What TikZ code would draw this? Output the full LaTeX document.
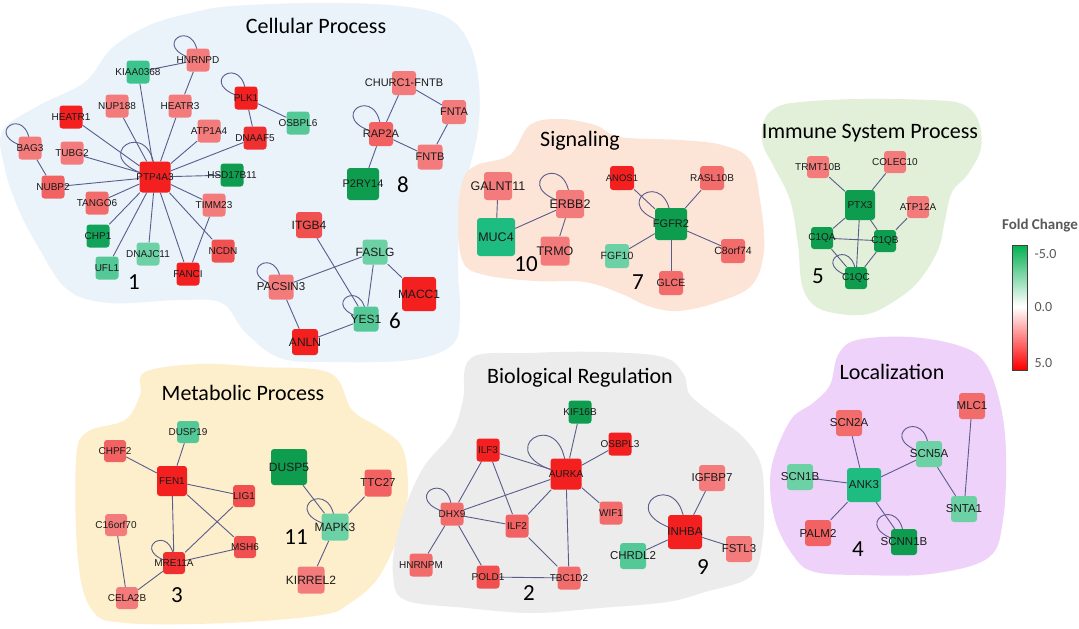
\documentclass[tikz,border=0pt]{standalone}
\usepackage{fontspec}
\setmainfont{Liberation Sans}
\newfontfamily\titfont{Carlito}
\pgfdeclarelayer{blobs}
\pgfdeclarelayer{edges}
\pgfsetlayers{blobs,edges,main}
\definecolor{R1}{HTML}{F41F1F}
\definecolor{R1b}{HTML}{F03030}
\definecolor{R2}{HTML}{F05050}
\definecolor{R2b}{HTML}{F26262}
\definecolor{R3}{HTML}{F47B7B}
\definecolor{R3b}{HTML}{F26C6C}
\definecolor{G1}{HTML}{0E9C4E}
\definecolor{G1b}{HTML}{12A35A}
\definecolor{G2}{HTML}{1FBC82}
\definecolor{G2b}{HTML}{3CC48E}
\definecolor{G3}{HTML}{6CD2A5}
\definecolor{G3b}{HTML}{55C898}
\definecolor{edgec}{HTML}{5A5C8C}
\definecolor{labc}{HTML}{1A1A1A}
\definecolor{bBlue}{HTML}{EAF2FA}
\definecolor{bPeach}{HTML}{FCE4D6}
\definecolor{bGreen}{HTML}{E2F0D9}
\definecolor{bLav}{HTML}{EFD2FA}
\definecolor{bYel}{HTML}{FDEFCB}
\definecolor{bGray}{HTML}{ECECEC}
\definecolor{cbg}{HTML}{00B050}
\definecolor{cbr}{HTML}{FF0000}
\definecolor{legc}{HTML}{595959}
\newcommand\lbl[1]{\makebox[0pt]{#1}}
\newcommand\gn[5]{\node[gene, minimum size=#3pt, fill=#4, #5] (#1) at (#2) {\lbl{#1}};}
\newcommand\sloop[2]{\draw[edge] (#1.center) .. controls +(-1.8*#2,-0.4*#2) and +(0,-1.6*#2) .. (#1.center);}
\begin{document}
\begin{tikzpicture}[x=1pt,y=-1pt,
  gene/.style={rectangle, rounded corners=3pt, minimum size=23pt, inner sep=0pt, text=labc, font=\fontsize{10}{10}\selectfont},
  fs/.style={font=\fontsize{#1}{#1}\selectfont},
  edge/.style={draw=edgec, line width=0.9pt},
  title/.style={font=\titfont\fontsize{22}{22}\selectfont, text=black},
  num/.style={font=\titfont\fontsize{23}{23}\selectfont, text=black},
  blob/.style={draw=none}]
\useasboundingbox (0,0) rectangle (1079,629);

\begin{pgfonlayer}{blobs}
\fill[white] (0,0) rectangle (1079,629);
\fill[bBlue] plot[smooth cycle, tension=0.6] coordinates {(233,6) (320,3) (400,6) (448,18) (470,45) (479,85) (478,130) (468,175) (460,220) (458,270) (460,315) (452,345) (410,360) (330,362) (280,358) (245,332) (222,303) (180,300) (110,303) (68,290) (40,250) (18,208) (4,165) (3,130) (40,105) (85,82) (112,48) (150,25) (195,12)};
\fill[bPeach] plot[smooth cycle, tension=0.6] coordinates {(463,180) (477,165) (510,155) (530,125) (560,119) (595,125) (620,137) (680,140) (722,145) (750,160) (760,200) (764,250) (752,285) (718,302) (678,311) (648,306) (622,294) (585,282) (535,281) (485,275) (463,262) (458,220)};
\fill[bGreen] plot[smooth cycle, tension=0.6] coordinates {(763,123) (775,108) (800,102) (860,99) (930,100) (962,104) (978,120) (981,148) (968,174) (952,192) (945,220) (938,250) (918,282) (893,302) (868,314) (840,314) (815,306) (802,285) (798,245) (790,200) (773,165) (763,145)};
\fill[bLav] plot[smooth cycle, tension=0.6] coordinates {(857,340) (910,337) (960,346) (985,363) (1000,403) (1006,453) (1003,520) (988,558) (930,574) (860,575) (815,572) (795,558) (775,520) (771,470) (790,421) (813,403) (830,385) (838,355)};
\fill[bYel] plot[smooth cycle, tension=0.6] coordinates {(145,372) (200,364) (260,367) (330,373) (352,410) (380,428) (402,447) (408,485) (404,520) (392,552) (375,582) (350,603) (322,615) (227,623) (125,623) (92,610) (78,560) (76,460) (87,432) (125,420) (140,395)};
\fill[bGray] plot[smooth cycle, tension=0.6] coordinates {(471,358) (530,353) (600,352) (663,357) (684,375) (690,395) (717,417) (743,437) (760,462) (764,495) (762,545) (750,577) (705,592) (667,602) (600,608) (533,613) (467,608) (405,600) (393,575) (396,540) (408,500) (425,465) (452,433) (463,400)};
\end{pgfonlayer}

% titles
\node[title] (tCell) at (316,26) {Cellular Process};
\node[title] (tSig) at (580,141) {Signaling};
\node[title] (tImm) at (870,133) {Immune System Process};
\node[title] (tMet) at (243,393) {Metabolic Process};
\node[title] (tBio) at (580,378) {Biological Regulation};
\node[title] (tLoc) at (892,372) {Localization};

% cluster numbers
\node[num] (n1) at (134,282) {1};
\node[num] (n8) at (403,185) {8};
\node[num] (n6) at (395,321) {6};
\node[num] (n10) at (526,264) {10};
\node[num] (n7) at (638,282) {7};
\node[num] (n5) at (818,276) {5};
\node[num] (n3) at (177,595) {3};
\node[num] (n11) at (296,537) {11};
\node[num] (n2) at (529,593) {2};
\node[num] (n9) at (703,567) {9};
\node[num] (n4) at (858,549) {4};

% Cellular cluster 1
\gn{HNRNPD}{198,60}{23}{R3}{}
\gn{KIAA0368}{138,72}{23}{G2b}{}
\gn{NUP188}{117,106}{23}{R3}{}
\gn{HEATR3}{180,106}{23}{R3}{}
\gn{HEATR1}{71,117}{23}{R1}{}
\gn{ATP1A4}{209,131}{23}{R3}{}
\gn{BAG3}{30,148}{23}{R3}{}
\gn{TUBG2}{72,153}{23}{R3}{}
\gn{PTP4A3}{155,177}{31}{R1}{}
\gn{NUBP2}{53,187}{23}{R2b}{}
\gn{TANGO6}{97,203}{23}{R3b}{}
\gn{TIMM23}{214,205}{23}{R3}{}
\gn{HSD17B11}{232,175}{23}{G1}{}
\gn{CHP1}{98,236}{23}{G1b}{}
\gn{DNAJC11}{148,254}{23}{G3}{}
\gn{NCDN}{223,251}{23}{R2}{}
\gn{UFL1}{107,268}{23}{G3b}{}
\gn{FANCI}{188,274}{23}{R1}{}
\gn{PLK1}{246,98}{23}{R1}{}
\gn{DNAAF5}{255,138}{23}{R1b}{}
\gn{OSBPL6}{298,123}{23}{G3b}{}
% cluster 8
\gn{CHURC1-FNTB}{404,83}{24}{R3}{fs=11}
\gn{FNTA}{454,112}{24}{R3}{fs=11}
\gn{RAP2A}{381,134}{24}{R2b}{fs=11}
\gn{FNTB}{430,157}{25}{R3}{fs=11}
\gn{P2RY14}{363,184}{32}{G1}{fs=11}
% cluster 6
\gn{ITGB4}{309,225}{26}{R2}{fs=12}
\gn{FASLG}{375,252}{25}{G3}{fs=12}
\gn{PACSIN3}{281,287}{25}{R3}{fs=11.5}
\gn{MACC1}{419,294}{34}{R1}{fs=12}
\gn{YES1}{366,319}{25}{G3b}{fs=12}
\gn{ANLN}{305,342}{26}{R1}{fs=12}
% Signaling
\gn{GALNT11}{498,186}{28}{R3}{fs=12.5}
\gn{ERBB2}{570,204}{28}{R3}{fs=12.5}
\gn{MUC4}{496,237}{38}{G2}{fs=12.5}
\gn{TRMO}{555,251}{29}{R3}{fs=12.5}
\gn{ANOS1}{622,178}{24}{R1}{fs=9.5}
\gn{RASL10B}{712,178}{24}{R3b}{fs=10}
\gn{FGFR2}{671,224}{32}{G1}{fs=11}
\gn{FGF10}{617,256}{24}{G3}{fs=10.5}
\gn{C8orf74}{733,251}{24}{R3b}{fs=10.5}
\gn{GLCE}{671,283}{24}{R3b}{fs=10.5}
% Immune
\gn{TRMT10B}{818,167}{22}{R3}{}
\gn{COLEC10}{895,162}{22}{R3}{}
\gn{PTX3}{860,205}{30}{G1}{}
\gn{ATP12A}{918,207}{22}{R3}{}
\gn{C1QA}{822,238}{22}{G1}{}
\gn{C1QB}{885,241}{22}{G1}{}
\gn{C1QC}{856,278}{22}{G1}{}
% Metabolic
\gn{DUSP19}{188,432}{22}{G3b}{}
\gn{CHPF2}{115,451}{22}{R2b}{}
\gn{FEN1}{172,481}{30}{R1}{}
\gn{LIG1}{244,496}{22}{R2}{}
\gn{C16orf70}{116,525}{22}{R3}{}
\gn{MSH6}{245,547}{22}{R2}{}
\gn{MRE11A}{174,563}{22}{R1b}{}
\gn{CELA2B}{127,598}{22}{R3}{}
\gn{DUSP5}{289,467}{36}{G1}{fs=12}
\gn{TTC27}{378,483}{27}{R2b}{fs=11.5}
\gn{MAPK3}{335,527}{27}{G3}{fs=12}
\gn{KIRREL2}{311,580}{27}{R3}{fs=12}
% Biological regulation
\gn{KIF16B}{580,412}{23}{G1}{}
\gn{OSBPL3}{620,444}{23}{R1}{}
\gn{ILF3}{488,450}{23}{R1}{}
\gn{AURKA}{566,474}{31}{R1}{}
\gn{DHX9}{452,514}{23}{R3b}{}
\gn{WIF1}{611,513}{23}{R3b}{}
\gn{ILF2}{517,526}{23}{R2b}{}
\gn{HNRNPM}{421,565}{23}{R3b}{}
\gn{POLD1}{488,577}{23}{R2}{}
\gn{TBC1D2}{569,578}{23}{R3b}{}
\gn{IGFBP7}{712,478}{26}{R3}{fs=11.5}
\gn{INHBA}{685,532}{34}{R1}{fs=11.5}
\gn{FSTL3}{739,549}{26}{R3}{fs=11.5}
\gn{CHRDL2}{633,556}{26}{G3b}{fs=11.5}
% Localization
\gn{MLC1}{972,406}{26}{R3b}{fs=11.5}
\gn{SCN2A}{849,423}{26}{R3b}{fs=11.5}
\gn{SCN5A}{929,454}{26}{G3}{fs=11.5}
\gn{SCN1B}{800,477}{26}{G3}{fs=11.5}
\gn{ANK3}{864,485}{34}{G2}{fs=11.5}
\gn{SNTA1}{964,509}{26}{G3}{fs=11.5}
\gn{PALM2}{818,533}{26}{R2b}{fs=11.5}
\gn{SCNN1B}{904,542}{26}{G1}{fs=11.5}

\begin{pgfonlayer}{edges}
% cluster 1
\foreach \t in {KIAA0368,HEATR1,NUP188,HEATR3,ATP1A4,DNAAF5,HSD17B11,TIMM23,NCDN,FANCI,DNAJC11,UFL1,CHP1,TANGO6,NUBP2,TUBG2}
  {\draw[edge] (PTP4A3) -- (\t);}
\draw[edge] (KIAA0368) -- (HNRNPD);
\draw[edge] (HNRNPD) -- (HEATR3);
\draw[edge] (BAG3) -- (NUBP2);
\draw[edge] (TIMM23) -- (FANCI);
\draw[edge] (PLK1) -- (DNAAF5);
\draw[edge] (PLK1) -- (OSBPL6);
\sloop{PTP4A3}{43}
\sloop{HNRNPD}{30}
\sloop{BAG3}{30}
\sloop{PLK1}{31}
% cluster 8
\draw[edge] (CHURC1-FNTB) -- (RAP2A);
\draw[edge] (CHURC1-FNTB) -- (FNTA);
\draw[edge] (FNTA) -- (FNTB);
\draw[edge] (RAP2A) -- (FNTB);
\draw[edge] (RAP2A) -- (P2RY14);
\sloop{RAP2A}{35}
% cluster 6
\draw[edge] (ITGB4) -- (YES1);
\draw[edge] (FASLG) -- (PACSIN3);
\draw[edge] (FASLG) -- (YES1);
\draw[edge] (FASLG) -- (MACC1);
\draw[edge] (PACSIN3) -- (ANLN);
\draw[edge] (ANLN) -- (YES1);
\sloop{PACSIN3}{30}
\sloop{YES1}{29}
% signaling
\draw[edge] (GALNT11) -- (MUC4);
\draw[edge] (MUC4) -- (ERBB2);
\draw[edge] (ERBB2) -- (TRMO);
\sloop{ERBB2}{38}
\foreach \t in {ANOS1,RASL10B,FGF10,GLCE,C8orf74} {\draw[edge] (FGFR2) -- (\t);}
\sloop{FGFR2}{40}
% immune
\foreach \t in {TRMT10B,COLEC10,C1QA,C1QB,C1QC} {\draw[edge] (PTX3) -- (\t);}
\draw[edge] (C1QB) -- (ATP12A);
\draw[edge] (C1QA) -- (C1QB);
\draw[edge] (C1QA) -- (C1QC);
\draw[edge] (C1QB) -- (C1QC);
\sloop{C1QC}{29}
% localization
\foreach \t in {SCN2A,SCN1B,SCN5A,PALM2,SCNN1B} {\draw[edge] (ANK3) -- (\t);}
\draw[edge] (SCN5A) -- (SNTA1);
\draw[edge] (MLC1) -- (SNTA1);
\sloop{SCN5A}{34}
\sloop{SCNN1B}{34}
% metabolic
\foreach \t in {DUSP19,CHPF2,LIG1,MSH6,MRE11A} {\draw[edge] (FEN1) -- (\t);}
\draw[edge] (LIG1) -- (MRE11A);
\draw[edge] (MSH6) -- (MRE11A);
\draw[edge] (MRE11A) -- (CELA2B);
\draw[edge] (C16orf70) -- (CELA2B);
\sloop{MRE11A}{28}
\foreach \t in {DUSP5,TTC27,KIRREL2} {\draw[edge] (MAPK3) -- (\t);}
\sloop{MAPK3}{35}
% biological regulation
\foreach \t in {KIF16B,OSBPL3,ILF3,DHX9,ILF2,WIF1,TBC1D2} {\draw[edge] (AURKA) -- (\t);}
\draw[edge] (ILF3) -- (DHX9);
\draw[edge] (ILF3) -- (ILF2);
\draw[edge] (DHX9) -- (ILF2);
\draw[edge] (DHX9) -- (HNRNPM);
\draw[edge] (DHX9) -- (POLD1);
\draw[edge] (ILF2) -- (TBC1D2);
\draw[edge] (POLD1) -- (TBC1D2);
\sloop{AURKA}{48}
\sloop{DHX9}{32}
\foreach \t in {IGFBP7,FSTL3,CHRDL2} {\draw[edge] (INHBA) -- (\t);}
\sloop{INHBA}{46}
\end{pgfonlayer}

% legend
\node[font=\titfont\bfseries\fontsize{15}{15}\selectfont, text=legc] (fc) at (1040,226) {Fold Change};
\foreach \i in {0,...,61} {\pgfmathtruncatemacro\p{100-\i*100/61}\fill[cbg!\p!white] (1012,245+\i) rectangle (1027,246.5+\i);}
\foreach \i in {0,...,62} {\pgfmathtruncatemacro\p{\i*100/62}\fill[cbr!\p!white] (1012,307+\i) rectangle (1027,308.5+\i);}
\node[draw=black!75, line width=1pt, minimum width=15pt, minimum height=125pt, inner sep=0pt] (cbar) at (1019.5,307.5) {};
\node[anchor=west, font=\titfont\fontsize{14}{14}\selectfont, text=legc] (l1) at (1031,254) {-5.0};
\node[anchor=west, font=\titfont\fontsize{14}{14}\selectfont, text=legc] (l2) at (1031,307) {0.0};
\node[anchor=west, font=\titfont\fontsize{14}{14}\selectfont, text=legc] (l3) at (1031,363) {5.0};
\end{tikzpicture}
\end{document}
